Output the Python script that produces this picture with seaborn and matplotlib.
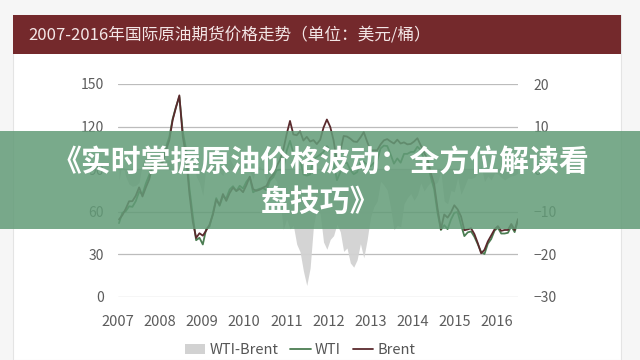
import numpy as np
import pandas as pd
import matplotlib
matplotlib.use("Agg")
import matplotlib.pyplot as plt
import seaborn as sns
from matplotlib.patches import Rectangle, Patch
from matplotlib.lines import Line2D

sns.set_theme(style="white")
plt.rcParams["font.family"] = ["Noto Sans CJK SC", "DejaVu Sans"]

# ---------------- data ----------------
year_labels = [str(y) for y in range(2007, 2017)]
left_ticks = [0, 30, 60, 90, 120, 150]
right_ticks = [-30, -20, -10, 0, 10, 20]

wti = [
    52.0, 59.3, 60.4, 63.9, 63.5, 67.5, 74.1, 72.4, 79.9, 85.8, 94.8, 91.7,
    93.0, 95.4, 105.5, 112.6, 125.4, 134.0, 141.0, 116.7, 104.1, 76.6, 57.3, 40.0,
    41.7, 37.0, 47.9, 49.7, 59.0, 69.6, 64.2, 71.0, 69.4, 75.7, 78.0, 74.5,
    78.3, 76.4, 81.2, 84.3, 73.7, 75.3, 76.3, 76.6, 75.2, 81.9, 84.3, 89.2,
    89.6, 89.6, 102.9, 110.0, 101.3, 96.3, 97.3, 86.3, 85.5, 86.3, 97.2, 98.6,
    100.3, 102.2, 106.2, 103.3, 94.7, 82.3, 87.9, 94.1, 94.5, 89.5, 86.5, 87.9,
    94.8, 95.3, 92.9, 92.0, 94.5, 95.8, 104.6, 106.6, 106.3, 100.5, 93.9, 97.6,
    94.6, 100.8, 100.8, 102.1, 102.2, 105.8, 103.6, 96.5, 93.2, 84.4, 75.8, 59.3,
    47.2, 50.6, 47.8, 54.5, 59.3, 59.8, 50.9, 42.9, 45.5, 46.2, 42.4, 37.2,
    31.7, 30.3, 37.5, 40.8, 46.7, 48.8, 44.7, 44.7, 45.2, 49.8, 45.7, 54.0,
]
brent = [
    54.6, 57.6, 62.1, 67.4, 67.5, 71.3, 77.2, 70.8, 77.1, 82.8, 92.5, 91.5,
    92.2, 94.8, 103.3, 110.4, 124.6, 133.5, 142.0, 113.4, 99.1, 72.8, 53.2, 41.6,
    44.9, 43.2, 46.8, 50.9, 57.9, 68.6, 64.9, 72.5, 67.7, 73.2, 77.0, 74.7,
    76.2, 73.8, 78.8, 84.8, 75.9, 74.8, 75.6, 77.1, 78.2, 83.5, 86.1, 92.0,
    96.5, 103.7, 114.6, 124.0, 114.5, 113.9, 116.7, 110.2, 112.8, 109.5, 110.5, 107.7,
    110.7, 119.3, 125.0, 119.8, 110.3, 95.2, 102.6, 113.4, 113.0, 111.5, 109.5, 109.2,
    112.3, 116.1, 109.5, 103.3, 103.3, 103.3, 107.4, 110.3, 111.2, 109.5, 108.1, 110.8,
    108.1, 108.9, 107.5, 107.8, 109.5, 111.8, 106.8, 101.6, 97.1, 87.4, 79.4, 62.3,
    47.8, 58.1, 55.9, 59.5, 64.6, 61.7, 56.8, 47.0, 47.6, 48.4, 44.3, 38.0,
    30.8, 33.2, 39.1, 43.3, 47.6, 49.9, 46.6, 47.2, 47.2, 51.4, 47.1, 54.9,
]

months = 2007 + np.arange(len(wti)) / 12.0
df = pd.DataFrame({"t": months, "WTI": wti, "Brent": brent})
df["spread"] = df["WTI"] - df["Brent"]

# ---------------- layout helpers ----------------
W, H = 640, 360
def fx(px):
    return px / W
def fy(py):
    return 1 - py / H

wti_c = "#4b7d52"
brent_c = "#5a2a2d"
grey_c = "#d2d2d2"
tick_c = "#5c5c5c"

fig = plt.figure(figsize=(6.4, 3.6), dpi=100, facecolor="#f6f6f6")

# card + banner
fig.add_artist(Rectangle((fx(13), 0), fx(621) - fx(13), fy(15), transform=fig.transFigure,
                         facecolor="white", edgecolor="#e4e4e4", lw=0.8, zorder=-5))
fig.add_artist(Rectangle((fx(13), fy(54)), fx(621) - fx(13), fy(15) - fy(54),
                         transform=fig.transFigure, facecolor="#74292c", lw=0, zorder=-4))
fig.text(fx(28), fy(35), "2007-2016年国际原油期货价格走势（单位：美元/桶）",
         color="#f3e6e6", fontsize=12, ha="left", va="center")

# axes
ax = fig.add_axes([fx(118), fy(297), fx(518) - fx(118), fy(84) - fy(297)])
ax2 = ax.twinx()
ax.set_zorder(2)
ax2.set_zorder(1)
ax.patch.set_visible(False)

# spread (right axis)
ax2.fill_between(df["t"], df["spread"], 0, color=grey_c, lw=0, alpha=0.95)
ax2.set_ylim(-30, 20)
ax2.set_yticks(right_ticks)
ax2.yaxis.grid(True, color="#bcbcbc", lw=0.9)
ax2.xaxis.grid(False)

# prices (left axis)
sns.lineplot(data=df, x="t", y="WTI", ax=ax, color=wti_c, lw=1.3)
sns.lineplot(data=df, x="t", y="Brent", ax=ax, color=brent_c, lw=1.3)
ax.set_ylim(0, 150)
ax.set_yticks(left_ticks)
ax.grid(False)
ax.set_xlabel("")
ax.set_ylabel("")
ax2.set_ylabel("")

x0, x1 = months[0], months[-1]
ax.set_xlim(x0, x1)
tick_px = 117 + 42.2 * np.arange(len(year_labels))
ax.set_xticks(x0 + (tick_px - 118) / 400.0 * (x1 - x0))
ax.set_xticklabels(year_labels)

for a in (ax, ax2):
    for s in a.spines.values():
        s.set_visible(False)
ax.tick_params(axis="y", length=0, pad=10, labelsize=10, labelcolor=tick_c)
ax.tick_params(axis="x", length=0, pad=13, labelsize=10.5, labelcolor=tick_c)
ax2.tick_params(axis="y", length=0, pad=11, labelsize=10, labelcolor=tick_c)

# legend
handles = [Patch(facecolor=grey_c, edgecolor="none"),
           Line2D([], [], color=wti_c, lw=1.3),
           Line2D([], [], color=brent_c, lw=1.3)]
leg = fig.legend(handles, ["WTI-Brent", "WTI", "Brent"], loc="center",
                 bbox_to_anchor=(fx(300), fy(350)), ncol=3, frameon=False,
                 fontsize=10.5, handlelength=1.4, handletextpad=0.3,
                 columnspacing=0.8)
for t in leg.get_texts():
    t.set_color("#555555")

# green overlay banner with headline
fig.add_artist(Rectangle((0, fy(229)), 1, fy(131) - fy(229), transform=fig.transFigure,
                         facecolor="#639c78", alpha=0.86, lw=0, zorder=10))
fig.text(0.5, fy(163), "《实时掌握原油价格波动：全方位解读看", color="white",
         fontsize=21.5, fontweight="heavy", ha="center", va="center", zorder=11)
fig.text(0.5, fy(202), "盘技巧》", color="white",
         fontsize=21.5, fontweight="heavy", ha="center", va="center", zorder=11)

fig.savefig("out.png", dpi=100, facecolor=fig.get_facecolor())
